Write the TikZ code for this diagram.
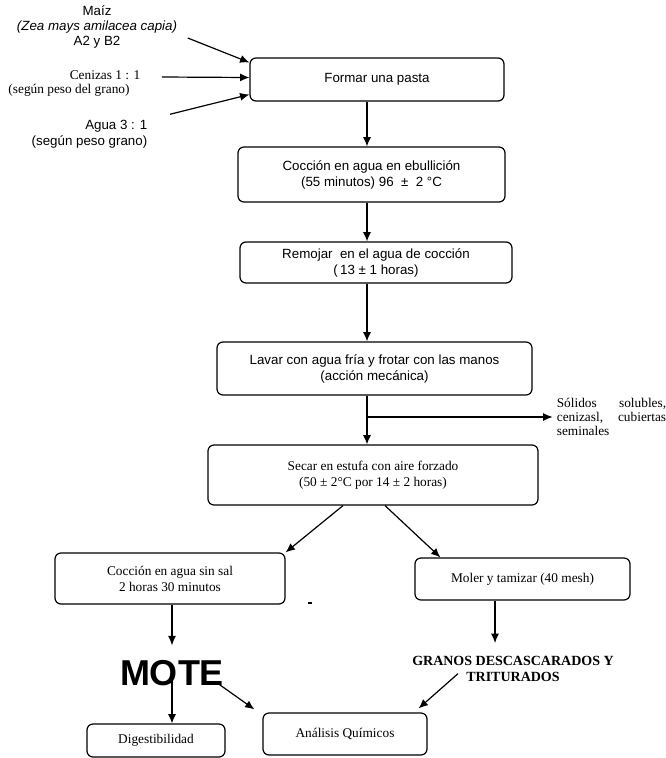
\documentclass[tikz,border=0pt]{standalone}
\usepackage{fontspec}
\setmainfont{Liberation Serif}
\setsansfont{Liberation Sans}
\usetikzlibrary{arrows.meta,calc}

\begin{document}
\begin{tikzpicture}[x=0.75pt, y=-0.75pt,
  box/.style={draw=black, line width=0.9pt, rounded corners=4.5pt, align=center, inner sep=0pt},
  wh/.style 2 args={minimum width=#1*0.75pt, minimum height=#2*0.75pt},
  sanstxt/.style={font=\sffamily\fontsize{10}{12}\selectfont},
  serftxt/.style={font=\rmfamily\fontsize{10}{12}\selectfont},
  arr/.style={line width=0.9pt, -{Latex[length=7pt,width=6pt]}}]

  \useasboundingbox (0,0) rectangle (666,758);
  \coordinate (spine) at (367,0);
  \coordinate (rdown) at (495,0);
  \coordinate (branch) at (367,417);

  % raw materials
  \node[sanstxt, align=center, font=\sffamily\fontsize{10}{11.5}\selectfont] (maiz) at (97,27)
    {Maíz\\\textit{(Zea mays amilacea capia)}\\A2 y B2};
  \node[serftxt] (cenizas) at (105,75) {Cenizas 1 : 1};
  \node[serftxt] (cenizasnota) at (69,90) {(según peso del grano)};
  \node[sanstxt, align=right, anchor=east] (agua) at (152,134) {Agua 3 : 1\\(según peso grano)};

  % process boxes
  \node[box, sanstxt, wh={254}{43}] (formar) at (377,79.5) {Formar una pasta};
  \node[box, sanstxt, wh={267}{55}] (coccion) at (371.5,174.5)
    {Cocción en agua en ebullición\\(55 minutos) 96 ~±~ 2 °C};
  \node[box, sanstxt, wh={272}{41}] (remojar) at (376,262.5)
    {Remojar \ en el agua de cocción\\(\,13 ± 1 horas)};
  \node[box, sanstxt, wh={315}{53}] (lavar) at (374.5,368.5)
    {Lavar con agua fría y frotar con las manos\\(acción mecánica)};
  \node[box, serftxt, wh={330}{60}] (secar) at (373,475)
    {Secar en estufa con aire forzado\\(50 ± 2°C por 14 ± 2 horas)};
  \node[box, serftxt, wh={230}{51}] (sinsal) at (170,578.5)
    {Cocción en agua sin sal\\2 horas 30 minutos};
  \node[box, serftxt, wh={215}{42}] (moler) at (522.5,579) {Moler y tamizar (40 mesh)};

  % waste
  \node[font=\rmfamily\fontsize{10}{10.5}\selectfont, text width=82pt, align=left, inner sep=0pt] (solidos) at (611.5,417)
    {Sólidos\hfill solubles,\\cenizasl,\hfill cubiertas\\seminales};

  % products
  \node[font=\sffamily\bfseries\fontsize{27}{29}\selectfont, inner sep=0pt] (mote) at (172,673) {MOTE};
  \node[font=\rmfamily\bfseries\fontsize{10.5}{11.5}\selectfont, align=center, inner sep=0pt] (granos) at (513,669)
    {GRANOS DESCASCARADOS Y\\TRITURADOS};
  \node[box, serftxt, wh={138}{33}] (digest) at (156,740.5) {Digestibilidad};
  \node[box, serftxt, wh={164}{42}] (analisis) at (345,734) {Análisis Químicos};

  % inputs
  \draw[arr] ($(maiz.east)+(6,11)$) -- ($(formar.west)+(0,-17)$);
  \draw[arr] ($(cenizas.east)+(17,2)$) -- ($(formar.west)+(0,-2)$);
  \draw[arr] ($(agua.north east)+(18,-1)$) -- ($(formar.west)+(0,15)$);

  % main line
  \draw[arr] (formar.south -| spine) -- (coccion.north -| spine);
  \draw[arr] (coccion.south -| spine) -- (remojar.north -| spine);
  \draw[arr] (remojar.south -| spine) -- (lavar.north -| spine);
  \draw[arr] (lavar.south -| spine) -- (secar.north -| spine);
  \draw[arr] (branch) -- ($(solidos.west |- branch)+(-4,0)$);
  \draw[arr] ($(secar.south)+(-30,0)$) -- (sinsal.north east);
  \draw[arr] ($(secar.south)+(12,0)$) -- ($(moler.north west)+(26,0)$);

  % to products
  \draw[arr, shorten >=11pt] (sinsal.south -| mote.north) -- (mote.north);
  \draw[arr, shorten >=10pt] (moler.south -| rdown) -- (granos.north -| rdown);
  \draw[arr] ($(mote.south)+(0,-7)$) -- (digest.north -| mote.south);
  \draw[arr] ($(mote.south east)+(-7,-3)$) -- ($(analisis.north west)+(-8,-3)$);
  \draw[arr] ($(granos.south)+(-55,-8)$) -- ($(analisis.north east)+(-9,-4)$);

  \draw[line width=0.8pt] (308,603) -- (312,603);
\end{tikzpicture}
\end{document}
